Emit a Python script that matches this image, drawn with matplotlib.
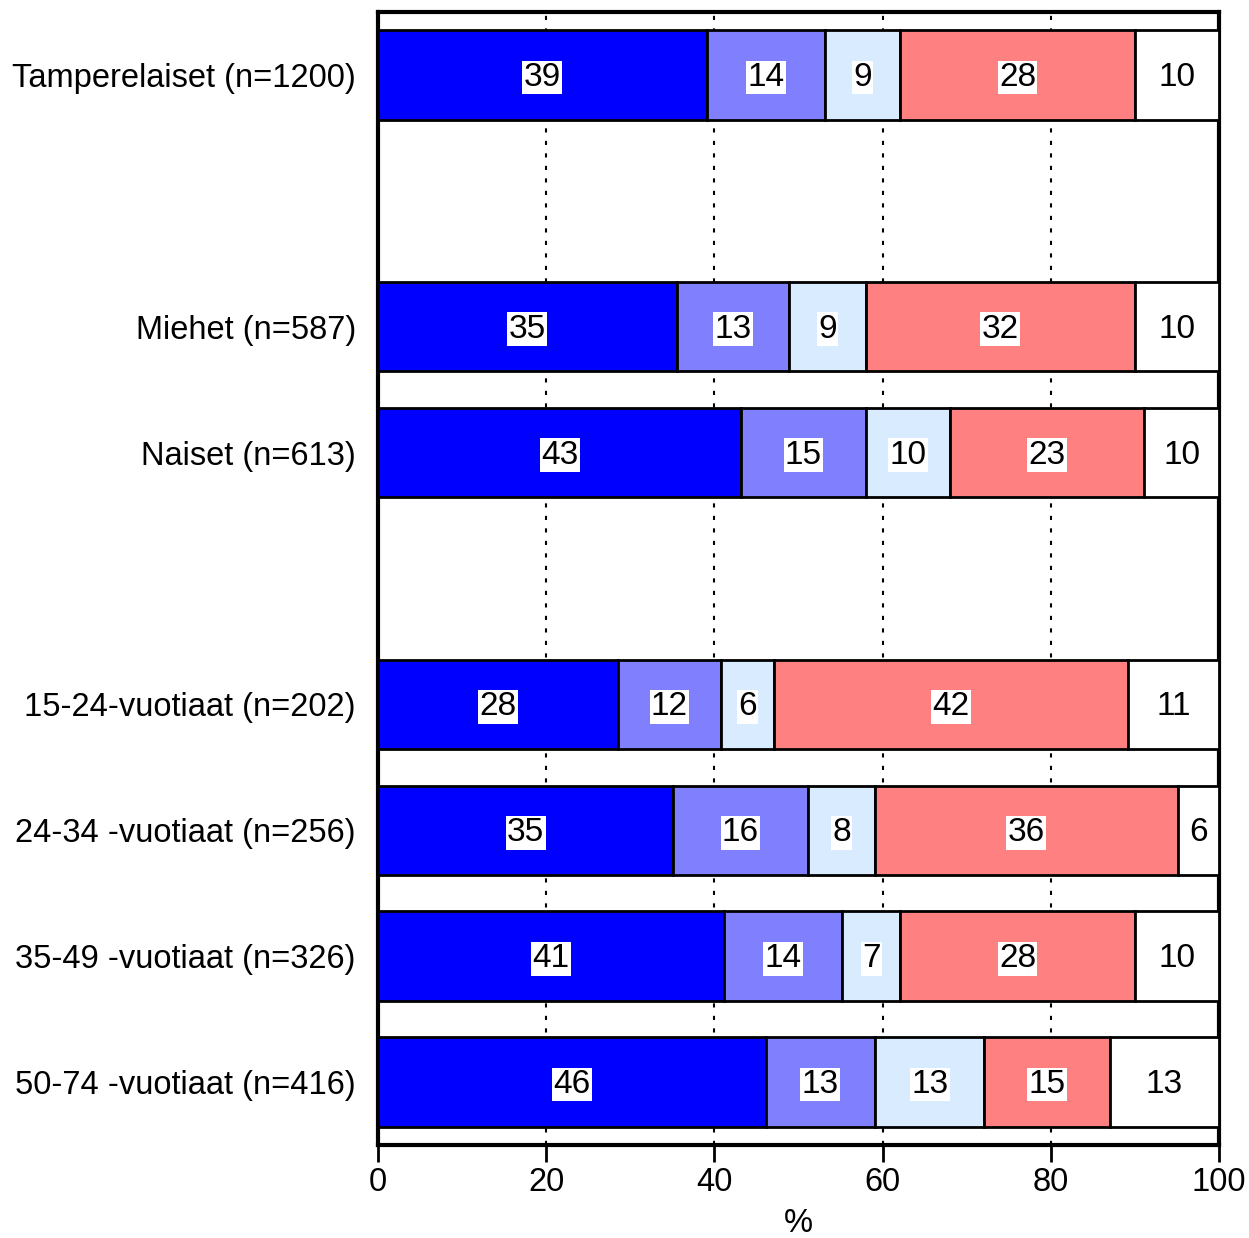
import numpy as np
import matplotlib.pyplot as plt

plt.rcParams['font.family'] = ['Liberation Sans', 'DejaVu Sans']

# --- data ---
groups = ["Tamperelaiset (n=1200)", "Miehet (n=587)", "Naiset (n=613)",
          "15-24-vuotiaat (n=202)", "24-34 -vuotiaat (n=256)",
          "35-49 -vuotiaat (n=326)", "50-74 -vuotiaat (n=416)"]
rows = [0, 2, 3, 5, 6, 7, 8]

seg1 = [39.1, 35.5, 43.2, 28.5, 35.1, 41.1, 46.1]
seg2 = [14.1, 13.4, 14.8, 12.3, 16.0, 14.1, 13.0]
seg3 = [8.9, 9.1, 10.0, 6.3, 8.0, 6.9, 13.0]
seg4 = [27.9, 32.0, 23.1, 42.1, 36.0, 27.9, 14.9]
seg5 = [10.0, 10.0, 8.9, 10.8, 4.9, 10.0, 13.0]

lab1 = [39, 35, 43, 28, 35, 41, 46]
lab2 = [14, 13, 15, 12, 16, 14, 13]
lab3 = [9, 9, 10, 6, 8, 7, 13]
lab4 = [28, 32, 23, 42, 36, 28, 15]
lab5 = [10, 10, 10, 11, 6, 10, 13]

colors = ['#0000FF', '#8080FF', '#D9ECFF', '#FF8080', '#FFFFFF']

fig = plt.figure(figsize=(12.49, 12.38), dpi=100)
ax = fig.add_axes([378 / 1249, 1 - 1145 / 1238, (1219 - 378) / 1249, (1145 - 12) / 1238])

segs = [seg1, seg2, seg3, seg4, seg5]
labs = [lab1, lab2, lab3, lab4, lab5]
left = np.zeros(len(rows))
for vals, lbls, c in zip(segs, labs, colors):
    vals = np.array(vals)
    ax.barh(rows, vals, left=left, height=0.71, color=c, edgecolor='black',
            linewidth=2, zorder=3)
    for y, l, v, t in zip(rows, left, vals, lbls):
        ax.text(l + v / 2, y + 0.02, str(t), ha='center', va='center', fontsize=24,
                zorder=4, bbox=dict(facecolor='white', edgecolor='none', pad=1))
    left = left + vals

ax.set_xlim(0, 100)
ax.set_ylim(8.5, -0.5)
ax.set_yticks(rows)
ax.set_yticklabels(groups, fontsize=23.5)
ax.tick_params(axis='y', length=0, pad=16)
ax.set_xticks([0, 20, 40, 60, 80, 100])
ax.tick_params(axis='x', labelsize=23.5, length=12, width=2, direction='out', pad=4)
ax.set_xlabel('%', fontsize=23.5, labelpad=7)

for xv in [20, 40, 60, 80]:
    ax.axvline(xv, color='black', linestyle=(0, (2, 4)), linewidth=1.5, zorder=1)

for s in ax.spines.values():
    s.set_linewidth(3)

fig.savefig('out.png', dpi=100)
